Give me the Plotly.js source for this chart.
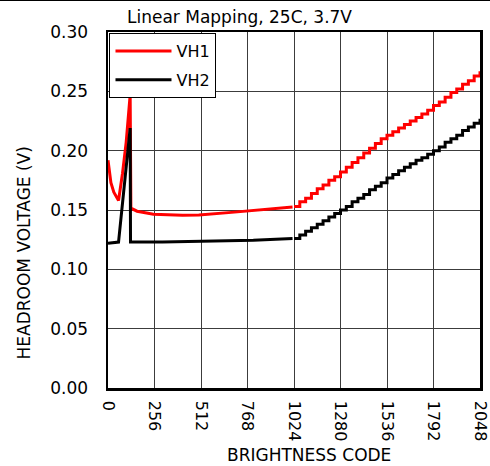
<!DOCTYPE html>
<html>
<head>
<meta charset="utf-8">
<script src="https://cdn.plot.ly/plotly-3.0.1.min.js"></script>
<style>html,body{margin:0;padding:0;background:#fff;}#chart{width:490px;height:466px;}</style>
</head>
<body>
<div id="chart"></div>
<script>
// VH1 (red) – irregular region, codes 0..1016
const vh1Codes = [0, 8, 16, 32, 48, 58, 80, 100, 122, 126, 160, 250, 410, 500, 680, 870, 1016];
const vh1Volts = [0.192, 0.181, 0.173, 0.165, 0.160, 0.158, 0.181, 0.207, 0.247, 0.1515, 0.149, 0.1465, 0.1455, 0.1457, 0.148, 0.1505, 0.1525];
// VH2 (black) – irregular region
const vh2Codes = [0, 58, 122, 124, 300, 512, 800, 1016];
const vh2Volts = [0.122, 0.123, 0.219, 0.123, 0.123, 0.1235, 0.1245, 0.126];
// Stair region, one step every 32 codes
const stepCodes = [1024, 1056, 1088, 1120, 1152, 1184, 1216, 1248, 1280, 1312, 1344, 1376, 1408, 1440, 1472, 1504, 1536, 1568, 1600, 1632, 1664, 1696, 1728, 1760, 1792, 1824, 1856, 1888, 1920, 1952, 1984, 2016, 2048];
const vh1Steps = [0.153, 0.157, 0.160, 0.164, 0.168, 0.171, 0.175, 0.178, 0.182, 0.186, 0.190, 0.194, 0.198, 0.202, 0.206, 0.210, 0.213, 0.216, 0.219, 0.222, 0.225, 0.228, 0.231, 0.234, 0.238, 0.241, 0.245, 0.249, 0.252, 0.256, 0.259, 0.263, 0.267];
const vh2Steps = [0.126, 0.129, 0.132, 0.135, 0.138, 0.141, 0.144, 0.147, 0.150, 0.153, 0.157, 0.160, 0.163, 0.167, 0.170, 0.173, 0.177, 0.180, 0.183, 0.186, 0.189, 0.192, 0.194, 0.197, 0.200, 0.203, 0.207, 0.210, 0.213, 0.217, 0.220, 0.223, 0.227];
const xTicks = [0, 256, 512, 768, 1024, 1280, 1536, 1792, 2048];
const yTicks = [0, 0.05, 0.10, 0.15, 0.20, 0.25, 0.30];
const yTickText = ['0.00', '0.05', '0.10', '0.15', '0.20', '0.25', '0.30'];

const FONT = 'DejaVu Sans, Liberation Sans, Arial, sans-serif';
const FS = 17;
const traces = [
  {x: vh1Codes, y: vh1Volts, name: 'VH1', legendgroup: 'vh1', mode: 'lines', line: {color: '#ff0000', width: 3}},
  {x: vh2Codes, y: vh2Volts, name: 'VH2', legendgroup: 'vh2', mode: 'lines', line: {color: '#000000', width: 3}},
  {x: stepCodes, y: vh1Steps, name: 'VH1', legendgroup: 'vh1', showlegend: false, mode: 'lines', line: {color: '#ff0000', width: 3, shape: 'hv'}},
  {x: stepCodes, y: vh2Steps, name: 'VH2', legendgroup: 'vh2', showlegend: false, mode: 'lines', line: {color: '#000000', width: 3, shape: 'hv'}}
];
const layout = {
  width: 490, height: 466,
  margin: {l: 108, r: 10, t: 32, b: 78, pad: 0},
  paper_bgcolor: '#fff', plot_bgcolor: '#fff',
  font: {family: FONT, size: FS, color: '#000'},
  title: {text: 'Linear Mapping, 25C, 3.7V', font: {family: FONT, size: FS, color: '#000'},
          xref: 'container', yref: 'container', x: 127/490, xanchor: 'left', y: 1 - 17.5/466, yanchor: 'middle'},
  xaxis: {range: [0, 2048], tickvals: xTicks, ticktext: xTicks.map(String), tickangle: 90,
          showgrid: true, gridcolor: '#3c3c3c', gridwidth: 1, zeroline: false,
          showline: true, mirror: true, linecolor: '#000', linewidth: 2.5, ticks: '', ticklabelstandoff: 7,
          ticklabeloverflow: 'allow',
          tickfont: {family: FONT, size: 16, color: '#000'}, fixedrange: true},
  yaxis: {range: [0, 0.30], tickvals: yTicks, ticktext: yTickText,
          showgrid: true, gridcolor: '#3c3c3c', gridwidth: 1, zeroline: false,
          showline: true, mirror: true, linecolor: '#000', linewidth: 2.5, ticks: '', ticklabelstandoff: 14,
          ticklabeloverflow: 'allow',
          tickfont: {family: FONT, size: FS, color: '#000'}, fixedrange: true},
  legend: {x: 0.004, y: 0.997, xanchor: 'left', yanchor: 'top', bgcolor: '#fff', bordercolor: '#000', borderwidth: 1,
           itemwidth: 56, tracegroupgap: 5,
           font: {family: FONT, size: 16, color: '#000'}},
  annotations: [
    {text: 'BRIGHTNESS CODE', xref: 'paper', yref: 'paper', x: (309-108)/372, y: -(454.5-388)/356,
     xanchor: 'center', yanchor: 'middle', showarrow: false, font: {family: FONT, size: FS, color: '#000'}},
    {text: 'HEADROOM VOLTAGE (V)', xref: 'paper', yref: 'paper', x: (23.5-108)/372, y: (388-253)/356,
     xanchor: 'center', yanchor: 'middle', textangle: -90, showarrow: false, font: {family: FONT, size: FS, color: '#000'}}
  ],
  shapes: [
    {type: 'line', xref: 'paper', yref: 'paper', x0: -108/372, x1: 1 + 10/372, y0: 1 + 31.5/356, y1: 1 + 31.5/356,
     line: {color: '#000', width: 1}}
  ]
};
Plotly.newPlot('chart', traces, layout, {displayModeBar: false, staticPlot: true});
</script>
</body>
</html>
